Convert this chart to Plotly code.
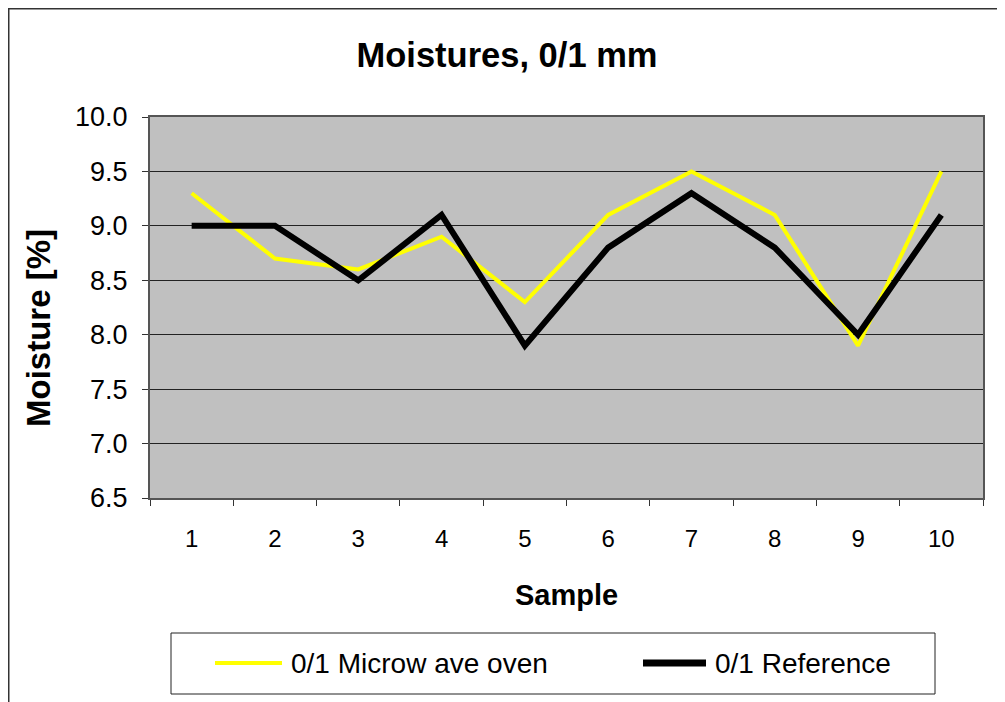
import plotly.graph_objects as go

samples = ["1", "2", "3", "4", "5", "6", "7", "8", "9", "10"]
microwave = [9.3, 8.7, 8.6, 8.9, 8.3, 9.1, 9.5, 9.1, 7.9, 9.5]
reference = [9.0, 9.0, 8.5, 9.1, 7.9, 8.8, 9.3, 8.8, 8.0, 9.1]

title_text = "Moistures, 0/1 mm"
x_title = "Sample"
y_title = "Moisture [%]"
name_micro = "0/1 Microw ave oven"
name_ref = "0/1 Reference"
col_micro = "#FFFF00"
col_ref = "#000000"

# the page body has an 8px margin; work in page coordinates and convert
OFF = 8
W, H = 1005 - OFF, 702 - OFF
L, R, T, B = 150 - OFF, 983 - OFF, 117 - OFF, 498 - OFF
pw, ph = R - L, B - T

def px(x):
    return (x - OFF - L) / pw

def py(y):
    return (B - (y - OFF)) / ph

FONT = "Liberation Sans, Arial, sans-serif"

fig = go.Figure()
fig.add_trace(go.Scatter(x=samples, y=microwave, mode="lines", name=name_micro,
                         line=dict(color=col_micro, width=4), showlegend=False))
fig.add_trace(go.Scatter(x=samples, y=reference, mode="lines", name=name_ref,
                         line=dict(color=col_ref, width=6), showlegend=False))

fig.update_layout(
    width=W, height=H,
    margin=dict(l=L, r=W - R, t=T, b=H - B, autoexpand=False),
    paper_bgcolor="white",
    plot_bgcolor="#C0C0C0",
    font=dict(family=FONT, color="black"),
    title=dict(text="<b>" + title_text + "</b>", x=(507 - OFF) / W, xanchor="center",
               y=1 - (55 - OFF) / H, yanchor="middle", yref="container",
               font=dict(size=34.5, family=FONT)),
    showlegend=False,
)

fig.update_xaxes(
    type="category", range=[-0.5, 9.5], tickson="boundaries",
    ticks="outside", ticklen=6, tickcolor="#333333", tickwidth=1,
    showgrid=False, showline=True, linecolor="#555555", linewidth=2, mirror=True,
    tickfont=dict(size=24, family=FONT), ticklabelstandoff=18,
    title=dict(text="<b>" + x_title + "</b>", font=dict(size=29, family=FONT), standoff=34),
)
fig.update_yaxes(
    range=[6.5, 10.0], dtick=0.5, tick0=6.5, tickformat=".1f",
    ticks="outside", ticklen=6, tickcolor="#333333", tickwidth=1,
    showgrid=True, gridcolor="#222222", gridwidth=1, zeroline=False,
    showline=True, linecolor="#555555", linewidth=2, mirror=True,
    tickfont=dict(size=27, family=FONT), ticklabelstandoff=9,
)

fig.add_annotation(text="<b>" + y_title + "</b>", xref="paper", yref="paper",
                   x=px(38), y=py(328), xanchor="center", yanchor="middle",
                   textangle=-90, showarrow=False, font=dict(size=33, family=FONT))

# outer chart border
fig.add_shape(type="rect", xref="paper", yref="paper",
              x0=px(8.5), x1=px(1030), y0=py(730), y1=py(8.5),
              line=dict(color="#333333", width=2), fillcolor="rgba(0,0,0,0)", layer="above")

# legend box
fig.add_shape(type="rect", xref="paper", yref="paper",
              x0=px(171), x1=px(935), y0=py(694), y1=py(633),
              line=dict(color="#222222", width=1), fillcolor="white", layer="above")
ly = py(663)
fig.add_shape(type="line", xref="paper", yref="paper", x0=px(215), x1=px(282), y0=ly, y1=ly,
              line=dict(color=col_micro, width=4), layer="above")
fig.add_shape(type="line", xref="paper", yref="paper", x0=px(643), x1=px(706), y0=ly, y1=ly,
              line=dict(color=col_ref, width=7), layer="above")
fig.add_annotation(text=name_micro, xref="paper", yref="paper", x=px(289), y=ly,
                   xanchor="left", yanchor="middle", showarrow=False,
                   font=dict(size=28, family=FONT))
fig.add_annotation(text=name_ref, xref="paper", yref="paper", x=px(713), y=ly,
                   xanchor="left", yanchor="middle", showarrow=False,
                   font=dict(size=28, family=FONT))

fig.write_html("out.html")
